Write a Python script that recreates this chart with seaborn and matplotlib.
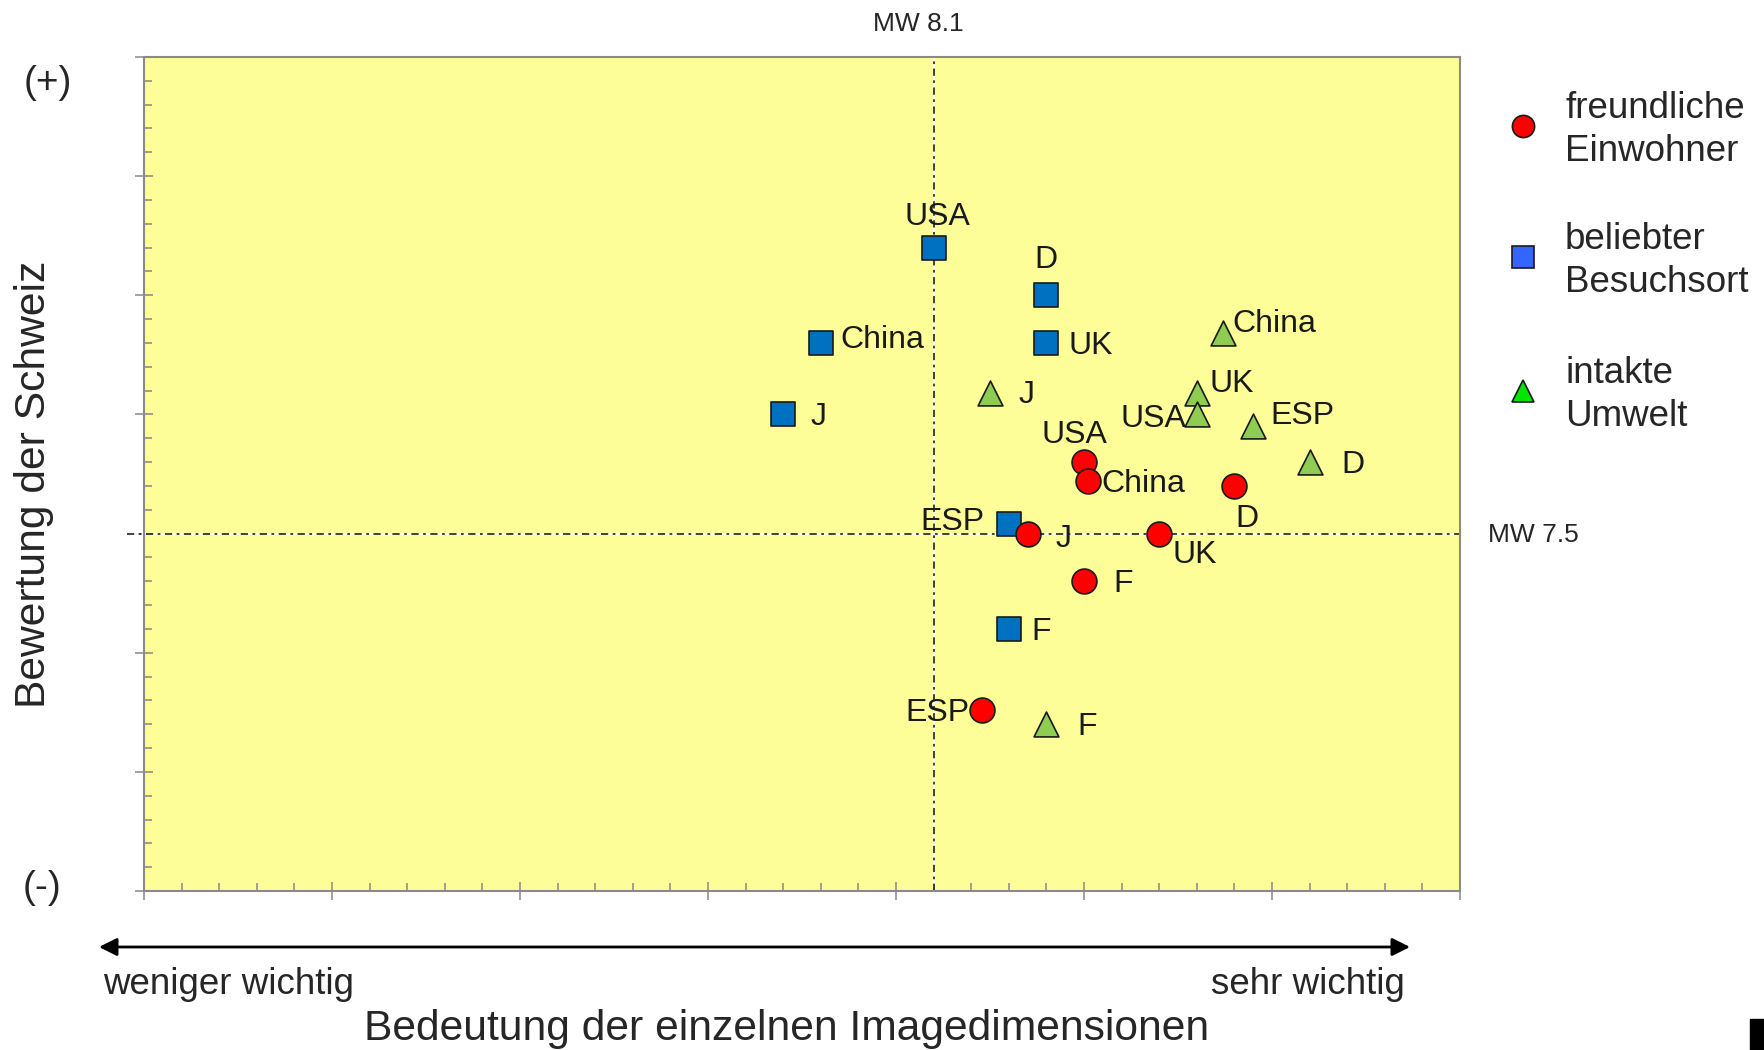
import matplotlib
matplotlib.use("Agg")
import matplotlib.pyplot as plt
import seaborn as sns
import pandas as pd
from matplotlib.lines import Line2D
from matplotlib.patches import FancyArrowPatch, Rectangle
from matplotlib.ticker import MultipleLocator

# Daten: Bedeutung (x) und Bewertung (y) je Land und Imagedimension
laender_rot = ['USA', 'China', 'D', 'J', 'UK', 'F', 'ESP']
x_rot = [8.50, 8.51, 8.90, 8.35, 8.70, 8.50, 8.23]
y_rot = [7.80, 7.72, 7.70, 7.50, 7.50, 7.30, 6.76]

laender_blau = ['USA', 'D', 'UK', 'China', 'J', 'ESP', 'F']
x_blau = [8.10, 8.40, 8.40, 7.80, 7.70, 8.30, 8.30]
y_blau = [8.70, 8.50, 8.30, 8.30, 8.00, 7.54, 7.10]

laender_gruen = ['China', 'UK', 'USA', 'ESP', 'D', 'J', 'F']
x_gruen = [8.87, 8.80, 8.80, 8.95, 9.10, 8.25, 8.40]
y_gruen = [8.34, 8.09, 8.00, 7.95, 7.80, 8.09, 6.70]

mw_x = 8.1
mw_y = 7.5

legende = ['freundliche\nEinwohner', 'beliebter\nBesuchsort', 'intakte\nUmwelt']

# Label-Versatz in Pixeln (dx, dy, ha)
off_rot = {'USA': (-10, 27, 'center'), 'China': (14, -3, 'left'), 'D': (13, -33, 'center'),
           'J': (28, -5, 'left'), 'UK': (13, -21, 'left'), 'F': (29, -3, 'left'),
           'ESP': (-13, -3, 'right')}
off_blau = {'USA': (4, 31, 'center'), 'D': (0, 35, 'center'), 'UK': (22, -3, 'left'),
            'China': (20, 3, 'left'), 'J': (27, -3, 'left'), 'ESP': (-24, 2, 'right'),
            'F': (23, -3, 'left')}
off_gruen = {'China': (9, 9, 'left'), 'UK': (13, 9, 'left'), 'USA': (-10, -5, 'right'),
             'ESP': (17, 10, 'left'), 'D': (32, -3, 'left'), 'J': (29, -2, 'left'),
             'F': (31, -3, 'left')}

sns.set_style('white')
plt.rcParams['font.family'] = ['Liberation Sans', 'DejaVu Sans']

fig = plt.figure(figsize=(17.64, 10.5), dpi=100)
ax = fig.add_axes([144 / 1764, 1 - 891 / 1050, 1316 / 1764, 834 / 1050])
ax.set_facecolor('#fefe98')

# Mittelwert-Linien
ls = (0, (4, 2.5, 1.5, 2.5))
ax.axvline(mw_x, color='#333333', lw=1.3, ls=ls, gapcolor='white', zorder=1)
ax.axhline(mw_y, xmin=-0.013, xmax=1, color='#333333', lw=1.3, ls=ls,
           gapcolor='white', clip_on=False, zorder=1)

serien = [
    (laender_blau, x_blau, y_blau, 's', '#0070c0', off_blau),
    (laender_gruen, x_gruen, y_gruen, '^', '#8fcc52', off_gruen),
    (laender_rot, x_rot, y_rot, 'o', '#ff0000', off_rot),
]
for namen, xs, ys, m, c, offs in serien:
    df = pd.DataFrame({'x': xs, 'y': ys, 'land': namen})
    sns.scatterplot(data=df, x='x', y='y', marker=m, color=c, s=320,
                    edgecolor='#1a1a1a', linewidth=1.2, ax=ax, zorder=3)
    for n, xv, yv in zip(namen, xs, ys):
        dx, dy, ha = offs[n]
        ax.annotate(n, (xv, yv), xytext=(dx, dy), textcoords='offset pixels',
                    ha=ha, va='center', fontsize=23, color='#1a1a1a', zorder=4)

ax.set_xlim(6.0, 9.5)
ax.set_ylim(6.0, 9.5)
ax.xaxis.set_major_locator(MultipleLocator(0.5))
ax.xaxis.set_minor_locator(MultipleLocator(0.1))
ax.yaxis.set_major_locator(MultipleLocator(0.5))
ax.yaxis.set_minor_locator(MultipleLocator(0.1))
ax.tick_params(which='major', direction='inout', length=13, width=1.1,
               color='#888888', labelbottom=False, labelleft=False,
               bottom=True, left=True)
ax.tick_params(which='minor', direction='in', length=5.8, width=1.1,
               color='#888888', bottom=True, left=True)
ax.set_xlabel('')
ax.set_ylabel('')
for sp in ax.spines.values():
    sp.set_color('#8a8a8a')
    sp.set_linewidth(1.5)

# Texte
fig.text(918 / 1764, 1 - 24 / 1050, 'MW 8.1', ha='center', va='center', fontsize=19)
fig.text(1488 / 1764, 1 - 535 / 1050, 'MW 7.5', ha='left', va='center', fontsize=19)
fig.text(48 / 1764, 1 - 83 / 1050, '(+)', ha='center', va='center', fontsize=28)
fig.text(42 / 1764, 1 - 888 / 1050, '(-)', ha='center', va='center', fontsize=28)
fig.text(34 / 1764, 1 - 484 / 1050, 'Bewertung der Schweiz', rotation=90,
         ha='center', va='center', fontsize=30.7)
fig.text(787 / 1764, 1 - 1029 / 1050, 'Bedeutung der einzelnen Imagedimensionen',
         ha='center', va='center', fontsize=30.7)
fig.text(103 / 1764, 1 - 985 / 1050, 'weniger wichtig', ha='left', va='center', fontsize=26.5)
fig.text(1405 / 1764, 1 - 985 / 1050, 'sehr wichtig', ha='right', va='center', fontsize=26.5)

pfeil = FancyArrowPatch((99 / 1764, 1 - 947 / 1050), (1410 / 1764, 1 - 947 / 1050),
                        transform=fig.transFigure,
                        arrowstyle='<|-|>,head_length=1.08,head_width=0.54',
                        mutation_scale=10, lw=2, color='black',
                        shrinkA=0, shrinkB=0)
fig.add_artist(pfeil)

# Legende
leg_marker = ['o', 's', '^']
leg_farben = ['#ff0000', '#3366ff', '#00e600']
leg_y = [126, 257, 391]
for lab, m, c, yy in zip(legende, leg_marker, leg_farben, leg_y):
    fig.add_artist(Line2D([1523 / 1764], [1 - yy / 1050], marker=m, markersize=16,
                          markerfacecolor=c, markeredgecolor='#1a1a1a',
                          markeredgewidth=1.2, linestyle='none',
                          transform=fig.transFigure))
    fig.text(1565 / 1764, 1 - (yy + 4) / 1050, lab, ha='left', va='center',
             fontsize=26.5, linespacing=1.32)

fig.add_artist(Rectangle((1750 / 1764, 0), 14 / 1764, 31 / 1050,
                         transform=fig.transFigure, color='black'))

fig.savefig('out.png', dpi=100)
